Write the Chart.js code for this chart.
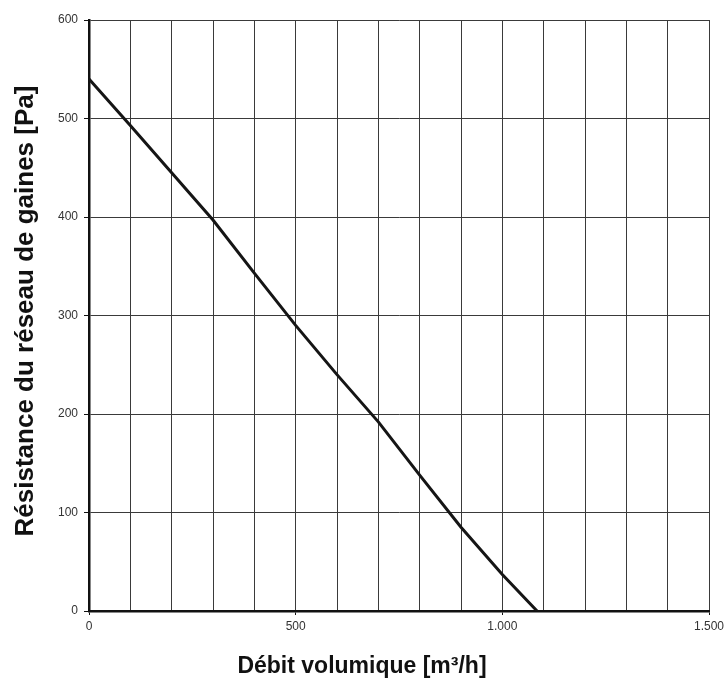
<!DOCTYPE html>
<html>
<head>
<meta charset="utf-8">
<script src="https://cdn.jsdelivr.net/npm/chart.js@4.4.0/dist/chart.umd.min.js"></script>
<style>
  html, body { margin: 0; padding: 0; background: #fff; }
  #wrap { width: 725px; height: 679px; }
</style>
</head>
<body>
<div id="wrap"><canvas id="chart" width="725" height="679"></canvas></div>
<script>
// debit volumique (m3/h) et resistance (Pa)
const flowValues = [0, 100, 200, 300, 400, 500, 600, 700, 800, 900, 1000, 1084];
const pressureValues = [540, 493, 445, 397, 343, 290, 240, 192, 138, 85, 37, 0];

const xTitle = "Débit volumique [m³/h]";
const yTitle = "Résistance du réseau de gaines [Pa]";

const points = flowValues.map((f, i) => ({ x: f, y: pressureValues[i] }));

const fmt = (v) => v >= 1000 ? Math.floor(v / 1000) + "." + String(v % 1000).padStart(3, "0") : String(v);

// titres dessines a la main, centres sur le canvas comme dans l'original
const titlesPlugin = {
  id: "titles",
  afterDraw(chart) {
    const ctx = chart.ctx;
    ctx.save();
    ctx.fillStyle = "#111";
    ctx.textAlign = "center";
    ctx.textBaseline = "alphabetic";
    ctx.font = "bold 23px 'Liberation Sans', Arial, sans-serif";
    ctx.fillText(xTitle, 362, 673);
    ctx.font = "bold 26px 'Liberation Sans', Arial, sans-serif";
    ctx.translate(33, 311);
    ctx.rotate(-Math.PI / 2);
    ctx.fillText(yTitle, 0, 0);
    ctx.restore();
  },
};

new Chart(document.getElementById("chart"), {
  type: "line",
  data: {
    datasets: [
      {
        data: points,
        borderColor: "#151515",
        borderWidth: 3,
        pointRadius: 0,
        tension: 0,
        fill: false,
      },
    ],
  },
  options: {
    responsive: false,
    animation: false,
    layout: { padding: { top: 20, right: 16, left: 0, bottom: 0 } },
    plugins: {
      legend: { display: false },
      tooltip: { enabled: false },
    },
    scales: {
      x: {
        type: "linear",
        min: 0,
        max: 1500,
        afterFit: (s) => { s.height = 68; s.paddingLeft = 0; s.paddingRight = 0; },
        border: { color: "#111", width: 2.5 },
        grid: {
          color: "#3a3a3a",
          lineWidth: 1,
          tickLength: 4,
          tickColor: (c) => (c.tick && c.tick.value % 500 === 0 ? "#111" : "rgba(0,0,0,0)"),
        },
        ticks: {
          stepSize: 100,
          autoSkip: false,
          maxRotation: 0,
          padding: 4,
          color: "#333",
          font: { family: "'Liberation Sans', Arial, sans-serif", size: 12 },
          callback: (v) => (v % 500 === 0 ? fmt(v) : ""),
        },
      },
      y: {
        min: 0,
        max: 600,
        afterFit: (s) => { s.width = 89; s.paddingTop = 0; s.paddingBottom = 0; },
        border: { color: "#111", width: 2.5 },
        grid: {
          color: "#3a3a3a",
          lineWidth: 1,
          tickLength: 5,
          tickColor: "#111",
        },
        ticks: {
          stepSize: 100,
          padding: 6,
          color: "#333",
          font: { family: "'Liberation Sans', Arial, sans-serif", size: 12 },
          callback: (v) => fmt(v),
        },
      },
    },
  },
  plugins: [titlesPlugin],
});
</script>
</body>
</html>
